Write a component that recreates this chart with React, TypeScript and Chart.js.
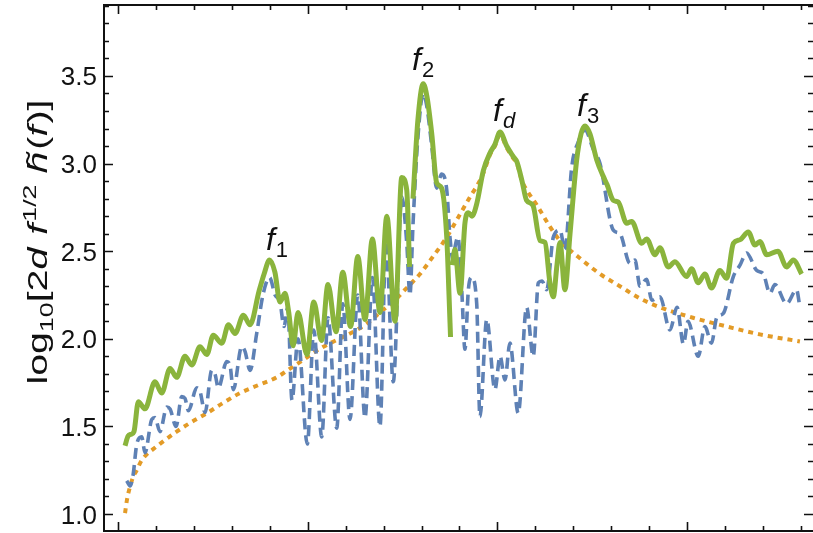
import React, { useEffect, useRef } from "react";
import { Chart, registerables } from "chart.js";

Chart.register(...registerables);

// ---------- data (x: frequency in arbitrary units, y: log10 amplitude) ----------
const greenX = [3.7, 5.3, 6.9, 8.4, 10.7, 14.2, 19.5, 23.0, 27.4, 30.9, 35.3, 38.9, 43.2, 46.8, 50.2, 54.7, 58.2, 61.7, 66.1, 69.6,
  74.3, 77.0, 79.9, 82.7, 85.4, 88.0, 90.0, 92.3,
  94.9, 99.6, 103.2, 107.3, 110.7, 114.9, 118.5, 122.6, 126.4, 130.2, 134.1, 138.1, 141.7, 146.0, 149.6, 152.2, 153.7,
  154.6,
  155.5, 158.1, 160.9, 162.9, 165.4, 168.0, 170.6, 173.3, 174.5, 175.3,
  175.8,
  176.3, 177.6, 180.3, 182.9, 184.7, 186.6, 189.1, 192.6, 196.1, 198.7, 201.4, 204.9, 208.4, 210.3, 213.0, 215.4, 218.8,
  222.5, 225.1, 227.7, 229.5, 231.4, 233.0, 235.6, 238.3, 241.8, 244.1, 246.2, 248.8, 252.4, 255.7, 257.8, 261.1, 263.7,
  268.2, 270.8, 276.1, 278.7, 283.1, 285.7, 290.1, 293.6, 299.8, 302.4, 305.9, 309.4, 312.9, 317.3, 320.9, 324.4, 327.9,
  332.3, 335.8, 338.4, 342.0, 347.9, 352.5, 356.0, 360.4];
const greenY = [1.39, 1.445, 1.455, 1.47, 1.64, 1.60, 1.755, 1.69, 1.83, 1.78, 1.90, 1.85, 1.955, 1.91, 2.02, 1.975, 2.08, 2.03, 2.135, 2.08,
  2.27, 2.37, 2.45, 2.38, 2.21, 2.26, 2.15, 1.96,
  2.15, 1.91, 2.21, 1.99, 2.31, 2.04, 2.38, 2.07, 2.47, 2.11, 2.57, 2.15, 2.70, 2.10, 2.92, 2.85, 2.41,
  null,
  2.80, 3.25, 3.455, 3.38, 3.17, 2.89, 2.86, 2.58, 2.25, 2.01,
  null,
  2.42, 2.51, 2.26, 2.66, 2.72, 2.70, 2.77, 2.96, 3.06, 3.11, 3.18, 3.10, 3.04, 3.01, 2.90, 2.79, 2.76,
  2.56, 2.55, 2.32, 2.24, 2.42, 2.55, 2.28, 2.60, 3.02, 3.17, 3.215, 3.17, 3.02, 2.93, 2.88, 2.79, 2.78,
  2.66, 2.67, 2.545, 2.57, 2.48, 2.52, 2.41, 2.44, 2.355, 2.40, 2.32, 2.37, 2.29, 2.39, 2.345, 2.545, 2.565,
  2.61, 2.535, 2.555, 2.48, 2.50, 2.41, 2.45, 2.37];

const blueX = [4.6, 6.3, 7.9, 9.9, 12.5, 14.2, 17.8, 19.5, 22.1, 25.7, 27.4, 30.6, 33.6, 35.3, 37.1, 41.5, 43.2, 45.9, 49.4, 51.1,
  52.9, 57.3, 59.0, 60.8, 65.2, 66.9, 69.6, 73.1, 76.4, 79.9, 82.8, 85.4, 87.5, 89.5, 91.7,
  94.9, 99.8, 103.2, 107.4, 110.7, 115.3, 118.5, 122.3, 126.4, 130.2, 134.1, 138.1, 141.3, 145.1, 149.6, 152.2, 153.9,
  155.5, 158.1, 160.9, 162.9, 165.4, 168.0, 170.6, 173.3, 175.0, 176.6, 177.6, 179.2, 181.2, 182.9, 184.7, 186.4, 189.1,
  190.8, 194.4, 198.7, 201.4, 204.0, 206.6, 211.0, 215.4, 218.9, 221.6, 223.5, 226.0, 229.5, 233.0, 235.6, 239.2, 242.5,
  246.2, 250.6, 254.1, 261.1, 264.6, 269.9, 272.5, 275.2, 278.7, 281.4, 285.7, 291.0, 294.7, 298.1, 300.5, 305.9, 309.4,
  312.9, 315.6, 319.1, 324.4, 327.9, 331.4, 336.7, 340.2, 343.7, 346.3, 352.5, 357.7, 359.5];
const blueY = [1.19, 1.16, 1.22, 1.40, 1.44, 1.35, 1.54, 1.55, 1.47, 1.61, 1.60, 1.50, 1.67, 1.66, 1.59, 1.72, 1.70, 1.58, 1.82, 1.80,
  1.72, 1.87, 1.85, 1.71, 1.955, 1.93, 1.82, 2.03, 2.25, 2.35, 2.25, 2.21, 2.07, 2.18, 1.65,
  2.00, 1.40, 2.05, 1.44, 2.12, 1.49, 2.20, 1.54, 2.25, 1.55, 2.35, 1.50, 2.56, 1.755, 2.81, 2.55, 2.25,
  2.65, 3.15, 3.40, 3.32, 3.10, 2.86, 2.94, 2.85, 2.58, 2.45, 2.52, 2.58, 2.28, 1.94, 2.28, 2.35, 2.20,
  1.555, 2.11, 1.71, 1.90, 1.765, 1.975, 1.575, 2.18, 1.90, 2.32, 2.33, 2.28, 2.58, 2.62, 2.51, 2.98, 3.12,
  3.19, 3.08, 3.00, 2.62, 2.60, 2.43, 2.45, 2.30, 2.34, 2.22, 2.24, 2.05, 2.18, 1.97, 2.10, 1.90, 2.07,
  1.975, 2.12, 2.145, 2.355, 2.42, 2.49, 2.39, 2.37, 2.26, 2.31, 2.20, 2.28, 2.18];

const orangeX = [3.7, 4.7, 6.3, 7.9, 9.9, 12.1, 15.1, 18.5, 22.1, 30.9, 38.0, 46.8, 54.8, 64.3, 73.8, 83.7, 90.7, 97.7, 104.4,
  111.8, 118.6, 125.8, 132.8, 138.1, 145.0, 151.3, 159.2, 166.1, 173.3, 179.2, 185.6, 189.1, 192.6, 196.1, 198.7, 201.4,
  204.9, 208.4, 210.3, 213.0, 216.0, 221.0, 227.7, 233.0, 243.5, 254.1, 264.6, 275.2, 285.7, 303.1, 321.0, 338.4, 359.5];
const orangeY = [1.005, 1.08, 1.155, 1.21, 1.25, 1.30, 1.34, 1.37, 1.40, 1.47, 1.52, 1.575, 1.63, 1.69, 1.735, 1.78, 1.83, 1.88, 1.93,
  1.975, 2.01, 2.05, 2.10, 2.15, 2.21, 2.28, 2.37, 2.47, 2.58, 2.69, 2.81, 2.87, 2.945, 3.05, 3.10, 3.165,
  3.09, 3.03, 3.0, 2.90, 2.84, 2.76, 2.64, 2.56, 2.46, 2.37, 2.30, 2.23, 2.18, 2.12, 2.07, 2.025, 1.985];

// peak labels
const peakSubs = ["1", "2", "d", "3"];
const peakX = [78.0, 155.0, 197.7, 242.0];
const peakY = [2.507, 3.534, 3.245, 3.272];

// axes
const xMin = -7.4;
const xMax = 366.4;
const yMin = 0.903;
const yMax = 3.905;
const yTickValues = [1.0, 1.5, 2.0, 2.5, 3.0, 3.5];
const yTickLabels = ["1.0", "1.5", "2.0", "2.5", "3.0", "3.5"];
const xMajorStep = 100;
const xMinorStep = 20;

const FONT = '"Liberation Sans", Arial, sans-serif';

function toPoints(xs: number[], ys: (number | null)[]) {
  return xs.map((x, i) => ({ x, y: ys[i] }));
}

function drawTitle(ctx: CanvasRenderingContext2D, cx: number, cy: number, targetLen: number) {
  const big = 28;
  const small = 19;
  const segs = [
    { t: "log", it: false, s: big, dy: 0 },
    { t: "10", it: false, s: small, dy: 6 },
    { t: "[2", it: false, s: big, dy: 0 },
    { t: "d", it: true, s: big, dy: 0 },
    { t: " ", it: false, s: big, dy: 0 },
    { t: "f", it: true, s: big, dy: 0 },
    { t: "1/2", it: false, s: small, dy: -11 },
    { t: " ", it: false, s: big, dy: 0 },
    { t: "h", it: true, s: big, dy: 0, tilde: true },
    { t: "(", it: false, s: big, dy: 0 },
    { t: "f", it: true, s: big, dy: 0 },
    { t: ")]", it: false, s: big, dy: 0 },
  ];
  const widths: number[] = [];
  let W = 0;
  for (const sg of segs) {
    ctx.font = `${sg.it ? "italic " : ""}${sg.s}px ${FONT}`;
    const w = ctx.measureText(sg.t).width + (sg.it ? 1.5 : 0);
    widths.push(w);
    W += w;
  }
  ctx.save();
  ctx.translate(cx, cy);
  ctx.rotate(-Math.PI / 2);
  ctx.scale(targetLen / W, 1);
  ctx.fillStyle = "#111";
  ctx.textBaseline = "alphabetic";
  ctx.textAlign = "left";
  let pos = -W / 2;
  segs.forEach((sg, i) => {
    ctx.font = `${sg.it ? "italic " : ""}${sg.s}px ${FONT}`;
    ctx.fillText(sg.t, pos, sg.dy);
    if ((sg as any).tilde) {
      ctx.font = `${big}px ${FONT}`;
      ctx.textAlign = "center";
      ctx.fillText("\u02DC", pos + widths[i] / 2 + 2.5, -1);
      ctx.textAlign = "left";
    }
    pos += widths[i];
  });
  ctx.restore();
}

const framePlugin = {
  id: "framePlugin",
  afterDraw(chart: any) {
    const { ctx, chartArea: a } = chart;
    const xs = chart.scales.x;
    const ys = chart.scales.y;
    ctx.save();
    ctx.strokeStyle = "#111";
    ctx.lineCap = "butt";
    ctx.lineWidth = 1.6;
    ctx.beginPath();
    for (let v = 0; v <= xMax; v += xMinorStep) {
      const px = Math.round(xs.getPixelForValue(v)) + 0.5;
      const len = v % xMajorStep === 0 ? 9 : 5;
      ctx.moveTo(px, a.bottom);
      ctx.lineTo(px, a.bottom - len);
      ctx.moveTo(px, a.top);
      ctx.lineTo(px, a.top + len);
    }
    for (let i = Math.ceil(yMin * 10); i <= Math.floor(yMax * 10); i++) {
      const py = Math.round(ys.getPixelForValue(i / 10)) + 0.5;
      const len = i % 5 === 0 ? 9 : 5;
      ctx.moveTo(a.left, py);
      ctx.lineTo(a.left + len, py);
      ctx.moveTo(a.right, py);
      ctx.lineTo(a.right - len, py);
    }
    ctx.stroke();
    ctx.lineWidth = 2;
    ctx.strokeRect(a.left, a.top, a.right - a.left + 3, a.bottom - a.top);

    // y tick labels
    ctx.fillStyle = "#111";
    ctx.font = `26px ${FONT}`;
    ctx.textAlign = "right";
    ctx.textBaseline = "alphabetic";
    yTickValues.forEach((v, i) => {
      const py = ys.getPixelForValue(v);
      ctx.fillText(yTickLabels[i], a.left - 7, py + 9.5);
    });

    // axis title
    drawTitle(ctx, 47, 242, 285);

    // peak labels
    peakSubs.forEach((sub, i) => {
      const px = xs.getPixelForValue(peakX[i]);
      const py = ys.getPixelForValue(peakY[i]);
      ctx.font = `italic 32px ${FONT}`;
      ctx.textAlign = "left";
      ctx.fillText("f", px, py);
      const fw = ctx.measureText("f").width;
      ctx.font = `${sub === "d" ? "italic " : ""}22px ${FONT}`;
      ctx.fillText(sub, px + fw + 1, py + 7);
    });
    ctx.restore();
  },
};

export default function App() {
  const ref = useRef<HTMLCanvasElement | null>(null);
  useEffect(() => {
    if (!ref.current) return;
    const chart = new Chart(ref.current, {
      type: "line",
      data: {
        datasets: [
          {
            data: toPoints(greenX, greenY) as any,
            borderColor: "#8AB43C",
            borderWidth: 5,
            pointRadius: 0,
            cubicInterpolationMode: "monotone",
            spanGaps: false,
            order: 0,
            borderCapStyle: "butt",
            borderJoinStyle: "round",
          },
          {
            data: toPoints(blueX, blueY) as any,
            borderColor: "#5E81B5",
            borderWidth: 3.6,
            borderDash: [11, 6],
            pointRadius: 0,
            cubicInterpolationMode: "monotone",
            order: 1,
            borderCapStyle: "butt",
          },
          {
            data: toPoints(orangeX, orangeY) as any,
            borderColor: "#E39B27",
            borderWidth: 4,
            borderDash: [5, 5],
            pointRadius: 0,
            cubicInterpolationMode: "monotone",
            order: 2,
            borderCapStyle: "butt",
          },
        ],
      },
      options: {
        responsive: false,
        animation: false,
        events: [],
        layout: { padding: { left: 104, top: 5, right: 0, bottom: 2 } },
        plugins: { legend: { display: false }, tooltip: { enabled: false } },
        scales: {
          x: { type: "linear", min: xMin, max: xMax, display: false },
          y: { type: "linear", min: yMin, max: yMax, display: false },
        },
      },
      plugins: [framePlugin],
    });
    return () => chart.destroy();
  }, []);
  return (
    <div style={{ position: "absolute", left: 0, top: 0, width: 813, height: 533, background: "#fff" }}>
      <canvas ref={ref} width={813} height={533} style={{ display: "block" }} />
    </div>
  );
}
